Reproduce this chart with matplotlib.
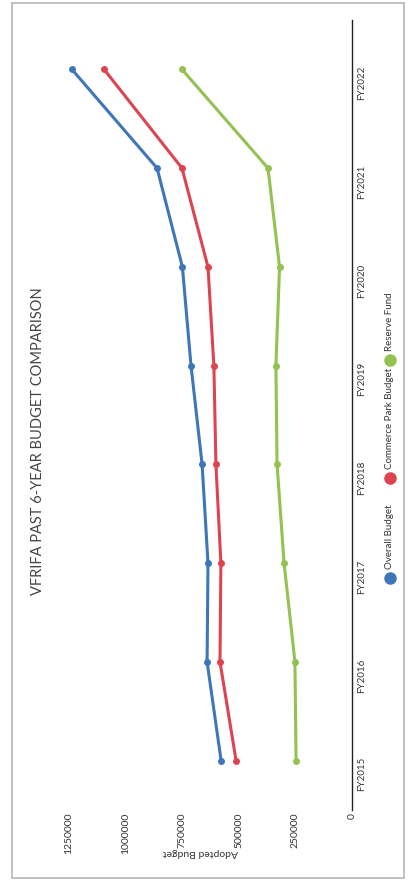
import matplotlib.pyplot as plt
from matplotlib.patches import Rectangle

plt.rcParams['font.family'] = ['Lato', 'DejaVu Sans']

years = ["FY2015", "FY2016", "FY2017", "FY2018", "FY2019", "FY2020", "FY2021", "FY2022"]
overall_budget = [578000, 640000, 636000, 662000, 711000, 749000, 861000, 1237000]
commerce_park_budget = [512000, 583000, 579000, 601000, 610000, 636000, 751000, 1095000]
reserve_fund = [247000, 252000, 300000, 331000, 336000, 320000, 371000, 751000]
value_ticks = [0, 250000, 500000, 750000, 1000000, 1250000]

series = [
    ("Overall Budget", overall_budget, "#3f76b9"),
    ("Commerce Park Budget", commerce_park_budget, "#de4350"),
    ("Reserve Fund", reserve_fund, "#93c152"),
]

W, H = 410, 884
fig = plt.figure(figsize=(W / 100, H / 100), dpi=100)

# chart is laid out sideways: years run bottom-to-top, values grow to the left
ax = fig.add_axes([35 / W, (H - 810) / H, 317 / W, 790 / H])
pos = list(range(len(years)))
for name, vals, color in series:
    ax.plot(vals, pos, color=color, lw=2.2, marker="o", ms=4, solid_capstyle="round")

ax.set_xlim(1400000, 0)
ax.set_ylim(-0.5, len(years) - 0.5)
for side in ["top", "left", "bottom"]:
    ax.spines[side].set_visible(False)
ax.spines["right"].set_color("#222222")
ax.spines["right"].set_linewidth(1.0)

ax.yaxis.tick_right()
ax.set_yticks(pos)
ax.set_yticklabels(years, rotation=90, fontsize=7, color="#333333")
ax.tick_params(axis="y", length=0, pad=4)

ax.set_xticks(value_ticks)
ax.set_xticklabels([str(v) for v in value_ticks], rotation=90, fontsize=7.5, color="#333333")
ax.tick_params(axis="x", length=0, pad=2)

fig.text(200 / W, 1 - 852 / H, "Adopted Budget", rotation=180, ha="center", va="center",
         fontsize=7.5, color="#333333")
fig.text(38 / W, 1 - 441 / H, "VFRIFA PAST 6-YEAR BUDGET COMPARISON", rotation=90,
         ha="center", va="center", fontsize=10.5, color="#444444")

# legend drawn by hand so it can sit rotated along the right edge
legend_y = [578, 478, 360]
for (name, vals, color), ly in zip(series, legend_y):
    fig.lines.append(plt.Line2D([390 / W], [1 - ly / H], transform=fig.transFigure,
                                marker="o", ms=8, color=color, lw=0))
    fig.text(390 / W, 1 - (ly - 9) / H, name, rotation=90, rotation_mode="anchor",
             ha="left", va="center", fontsize=7, color="#333333")

fig.patches.append(Rectangle((12 / W, 1 - 878 / H), 392 / W, 875 / H, transform=fig.transFigure,
                             fill=False, ec="#b5b5b5", lw=1.2))

fig.savefig("out.png", dpi=100)
